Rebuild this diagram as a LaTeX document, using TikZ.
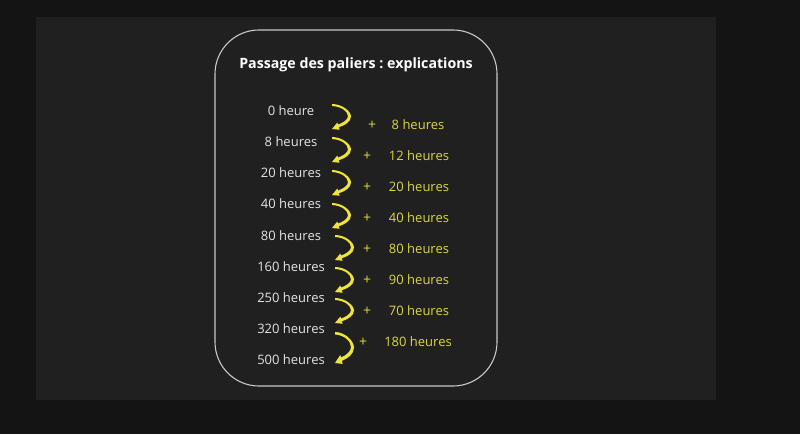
\documentclass[tikz,border=0pt]{standalone}
\usepackage{fontspec}
\setmainfont{Open Sans}
\frenchspacing
\definecolor{outerbg}{HTML}{141414}
\definecolor{panelbg}{HTML}{202020}
\definecolor{boxline}{HTML}{C8C8C8}
\definecolor{txtwhite}{HTML}{E4E4E4}
\definecolor{txtyellow}{HTML}{DCD83E}
\definecolor{arrowyellow}{HTML}{F0E43C}
\tikzset{
  lefttxt/.style={text=txtwhite, font=\fontsize{13}{15}\selectfont, inner sep=0pt, anchor=center},
  righttxt/.style={text=txtyellow, font=\fontsize{13}{15}\selectfont, inner sep=0pt, anchor=center},
  plustxt/.style={text=txtyellow, font=\fontsize{14}{16}\selectfont, inner sep=0pt, anchor=center},
  titletxt/.style={text=white, font=\bfseries\fontsize{14.2}{17}\selectfont, inner sep=0pt},
  curvearrow/.pic={
    \fill[arrowyellow]
      (0,0) .. controls (0.55*\aw,0) and (\aw,0.3*\ah) .. (\aw,0.5*\ah)
      .. controls (\aw,0.72*\ah) and (0.65*\aw,0.86*\ah) .. (0.36*\aw,0.93*\ah)
      -- (0.40*\aw,1.03*\ah) -- (0,\ah) -- (0.28*\aw,0.74*\ah) -- (0.32*\aw,0.82*\ah)
      .. controls (0.6*\aw,0.75*\ah) and (0.84*\aw,0.62*\ah) .. (0.84*\aw,0.49*\ah)
      .. controls (0.84*\aw,0.3*\ah) and (0.5*\aw,0.1*\ah) .. (0,0.08*\ah) -- cycle;
  }
}
\newcommand{\aw}{19}
\newcommand{\ah}{25}
\begin{document}
\begin{tikzpicture}[x=1pt,y=-1pt]
\fill[outerbg] (0,0) rectangle (800,434);
\useasboundingbox (0,0) rectangle (800,434);
\fill[panelbg] (36,17) rectangle (716,400);
\draw[boxline, line width=1.1pt, rounded corners=44pt] (215,30) rectangle (497,386);
\node[titletxt] (title) at (356,64.5) {Passage des paliers : explications};
% left labels
\node[lefttxt] (l0) at (291,111) {0 heure};
\node[lefttxt] (l1) at (291,142) {8 heures};
\node[lefttxt] (l2) at (291,173) {20 heures};
\node[lefttxt] (l3) at (291,204) {40 heures};
\node[lefttxt] (l4) at (291,236) {80 heures};
\node[lefttxt] (l5) at (291,267) {160 heures};
\node[lefttxt] (l6) at (291,298) {250 heures};
\node[lefttxt] (l7) at (291,329) {320 heures};
\node[lefttxt] (l8) at (291,360) {500 heures};
% plus signs
\node[plustxt] (p1) at (372,125) {+};
\node[plustxt] (p2) at (367,156) {+};
\node[plustxt] (p3) at (367,187) {+};
\node[plustxt] (p4) at (367,218) {+};
\node[plustxt] (p5) at (367,249) {+};
\node[plustxt] (p6) at (367,280) {+};
\node[plustxt] (p7) at (367,311) {+};
\node[plustxt] (p8) at (363,342) {+};
% right labels
\node[righttxt] (r1) at (418,125) {8 heures};
\node[righttxt] (r2) at (419,156) {12 heures};
\node[righttxt] (r3) at (419,187) {20 heures};
\node[righttxt] (r4) at (419,218) {40 heures};
\node[righttxt] (r5) at (419,249) {80 heures};
\node[righttxt] (r6) at (419,280) {90 heures};
\node[righttxt] (r7) at (419,311) {70 heures};
\node[righttxt] (r8) at (418,342) {180 heures};
% arrows
\coordinate (a1) at (332,104);
\coordinate (a2) at (332,137);
\coordinate (a3) at (332,170);
\coordinate (a4) at (332,203);
\coordinate (a5) at (335,235);
\coordinate (a6) at (335,267);
\coordinate (a7) at (335,298);
\coordinate (a8) at (335,332);
\foreach \c in {a1,a2,a3,a4,a5,a6,a7} { \pic at (\c) {curvearrow}; }
\begin{scope}
\renewcommand{\ah}{31}
\pic at (a8) {curvearrow};
\end{scope}
\end{tikzpicture}
\end{document}
